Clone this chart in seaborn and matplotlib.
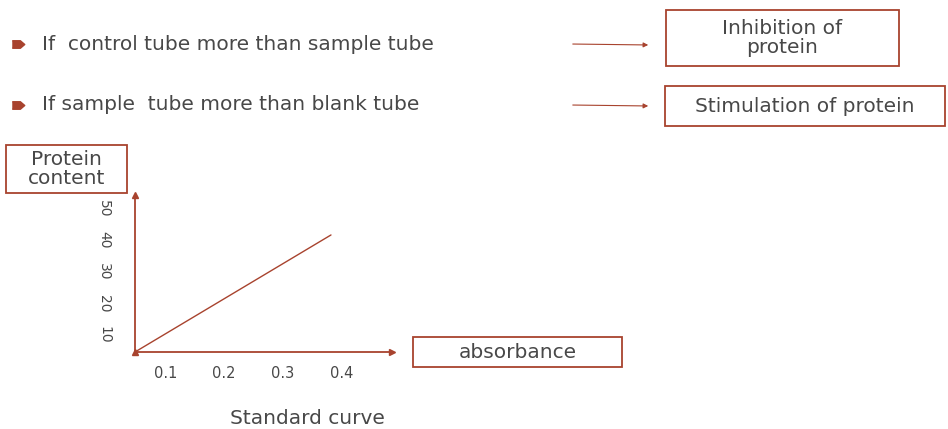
import numpy as np
import pandas as pd
import seaborn as sns
import matplotlib.pyplot as plt
from matplotlib.patches import Rectangle

# Chart data
x_ticks = [0.1, 0.2, 0.3, 0.4]
y_ticks = [10, 20, 30, 40, 50]
curve_absorbance = [0.048, 0.382]
curve_protein = [4.7, 41.6]

bullet_lines = ["If  control tube more than sample tube",
                "If sample  tube more than blank tube"]
result_labels = ["Inhibition of\nprotein", "Stimulation of protein"]

sns.set_style("white")
plt.rcParams['font.family'] = ['DejaVu Sans']

RED = "#A8432E"
TXT = "#484848"
FS = 14.5

W, H = 948, 429
fig = plt.figure(figsize=(W / 100, H / 100), dpi=100)

# overlay in pixel coordinates for the slide annotations
ov = fig.add_axes([0, 0, 1, 1])
ov.set_xlim(0, W)
ov.set_ylim(H, 0)
ov.axis("off")

def box(x0, y0, x1, y1, text):
    ov.add_patch(Rectangle((x0, y0), x1 - x0, y1 - y0, fill=False,
                           edgecolor=RED, lw=1.3))
    ov.text((x0 + x1) / 2, (y0 + y1) / 2, text,
            ha="center", va="center", fontsize=FS, color=TXT,
            linespacing=0.95)

bullet_shape = [(-1, -0.6), (0.3, -0.6), (1, 0), (0.3, 0.6), (-1, 0.6)]
for yy, line in zip([44, 105], bullet_lines):
    ov.plot(18, yy, marker=bullet_shape, ms=9, color=RED, mec=RED)
    ov.text(42, yy, line, ha="left", va="center", fontsize=FS, color=TXT)
    ov.annotate("", xy=(651, yy + 1), xytext=(570, yy),
                arrowprops=dict(arrowstyle="-|>", color=RED, lw=0.8,
                                mutation_scale=7))

box(666, 10, 899, 66, result_labels[0])
box(665, 86, 945, 126, result_labels[1])
box(6, 145, 127, 193, "Protein\ncontent")
box(413, 337, 622, 367, "absorbance")
ov.text(307, 419, "Standard curve", ha="center", va="center",
        fontsize=FS, color=TXT)

# the standard curve axes
ax = fig.add_axes([135 / W, 1 - 352 / H, (392 - 135) / W, (352 - 195) / H])
df = pd.DataFrame({"absorbance": curve_absorbance, "protein": curve_protein})
sns.lineplot(data=df, x="absorbance", y="protein", ax=ax, color=RED, lw=1.0)
ax.set_xlim(0.048, 0.486)
ax.set_ylim(4.7, 54.2)
ax.set_facecolor("none")
ax.set_xlabel("")
ax.set_ylabel("")
ax.set_xticks(x_ticks)
ax.set_xticklabels([str(v) for v in x_ticks], fontsize=10.5, color=TXT)
ax.set_yticks(y_ticks)
ax.set_yticklabels([str(v) for v in y_ticks], fontsize=10, color=TXT,
                   rotation=-90, va="center")
ax.tick_params(axis="x", length=0, pad=10)
ax.tick_params(axis="y", length=0, pad=17)
for s in ["top", "right"]:
    ax.spines[s].set_visible(False)
for s in ["left", "bottom"]:
    ax.spines[s].set_color(RED)
    ax.spines[s].set_linewidth(1.3)
ax.plot(1, 0, ">", color=RED, ms=5, transform=ax.transAxes, clip_on=False)
ax.plot(0, 1, "^", color=RED, ms=5, transform=ax.transAxes, clip_on=False)
ax.plot(0, 0, "^", color=RED, ms=5, transform=ax.transAxes, clip_on=False)

fig.savefig("out.png", dpi=100)
